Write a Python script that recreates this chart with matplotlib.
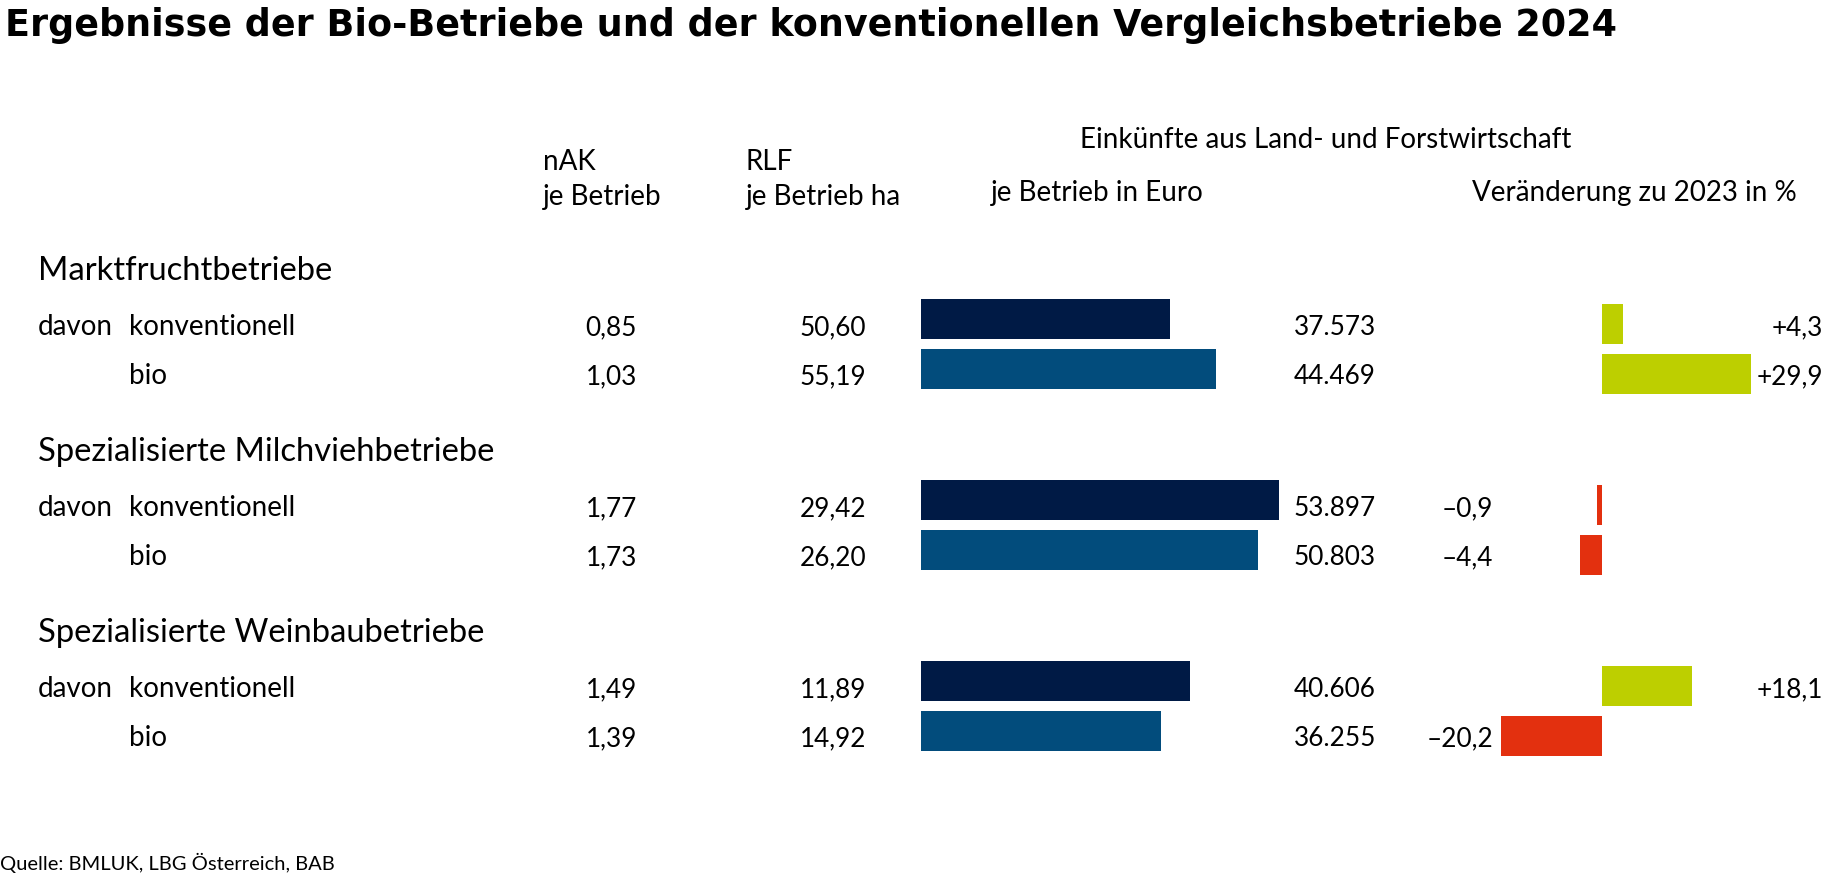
import matplotlib
matplotlib.use("Agg")
import matplotlib.pyplot as plt

# data
groups = ["Marktfruchtbetriebe", "Spezialisierte Milchviehbetriebe", "Spezialisierte Weinbaubetriebe"]
types = ["konventionell", "bio"]
nak = [0.85, 1.03, 1.77, 1.73, 1.49, 1.39]
rlf = [50.60, 55.19, 29.42, 26.20, 11.89, 14.92]
einkuenfte = [37573, 44469, 53897, 50803, 40606, 36255]
veraenderung = [4.3, 29.9, -0.9, -4.4, 18.1, -20.2]

title = "Ergebnisse der Bio-Betriebe und der konventionellen Vergleichsbetriebe 2024"
source = "Quelle: BMLUK, LBG Österreich, BAB"

# layout (pixels)
W, H = 1825, 879
TOP, GROUP_STEP, PAIR_STEP = 325, 181, 49.5
EURO_X0, EURO_PX = 920.6, 0.006643     # bar start, px per euro
CHG_X0, CHG_PX = 1601.5, 5.0           # zero line, px per percent

c_konv, c_bio = "#001a45", "#024c7c"
c_pos, c_neg = "#bdcf00", "#e3300f"

plt.rcParams["font.family"] = ["Lato", "DejaVu Sans"]


def de(v, nd=2):
    s = f"{abs(v):,.{nd}f}".replace(",", "X").replace(".", ",").replace("X", ".")
    return s


row_y = []
for g in range(len(groups)):
    for t in range(len(types)):
        row_y.append(TOP + g * GROUP_STEP + t * PAIR_STEP)

fig = plt.figure(figsize=(W / 100, H / 100), dpi=100)

# text layer in pixel coordinates
ax = fig.add_axes([0, 0, 1, 1])
ax.set_xlim(0, W)
ax.set_ylim(H, 0)
ax.axis("off")

# euro bars
ax_e = fig.add_axes([EURO_X0 / W, 0, 400 / W, 1])
ax_e.set_xlim(0, 400 / EURO_PX)
ax_e.set_ylim(H, 0)
ax_e.axis("off")
ax_e.barh([y - 5 for y in row_y], einkuenfte, height=40,
          color=[c_konv, c_bio] * len(groups))

# change bars
ax_c = fig.add_axes([1480 / W, 0, 320 / W, 1])
ax_c.set_xlim(-(CHG_X0 - 1480) / CHG_PX, (1800 - CHG_X0) / CHG_PX)
ax_c.set_ylim(H, 0)
ax_c.axis("off")
ax_c.barh(row_y, veraenderung, height=40,
          color=[c_pos if v >= 0 else c_neg for v in veraenderung])

ax.set_zorder(3)
ax.patch.set_visible(False)

# title
ax.text(5, 36, title, fontsize=26.3, fontweight="bold", va="baseline", ha="left",
        family="DejaVu Sans")

# headers
hs = 20
ns = 18.8
ax.text(543, 170, "nAK", fontsize=hs, va="baseline")
ax.text(543, 205, "je Betrieb", fontsize=hs, va="baseline")
ax.text(746, 170, "RLF", fontsize=hs, va="baseline")
ax.text(746, 205, "je Betrieb ha", fontsize=hs, va="baseline")
ax.text(1080, 148, "Einkünfte aus Land- und Forstwirtschaft", fontsize=hs, va="baseline")
ax.text(991, 201, "je Betrieb in Euro", fontsize=hs, va="baseline")
ax.text(1472, 201, "Veränderung zu 2023 in %", fontsize=hs, va="baseline")

# rows
for g, name in enumerate(groups):
    ax.text(38, row_y[2 * g] - 45, name, fontsize=23.6, va="baseline")
for i, y in enumerate(row_y):
    b = y + 10
    if i % 2 == 0:
        ax.text(38, b, "davon", fontsize=hs, va="baseline")
    ax.text(129, b, types[i % 2], fontsize=hs, va="baseline")
    ax.text(637, b, de(nak[i]), fontsize=ns, va="baseline", ha="right")
    ax.text(866, b, de(rlf[i]), fontsize=ns, va="baseline", ha="right")
    ax.text(1376, b, de(einkuenfte[i], 0), fontsize=ns, va="baseline", ha="right")
    v = veraenderung[i]
    if v >= 0:
        ax.text(1823, b, "+" + de(v, 1), fontsize=ns, va="baseline", ha="right")
    else:
        ax.text(1493, b, "\u2013" + de(v, 1), fontsize=ns, va="baseline", ha="right")

ax.text(0, 870, source, fontsize=14.5, va="baseline")

fig.savefig("out.png", dpi=100)
